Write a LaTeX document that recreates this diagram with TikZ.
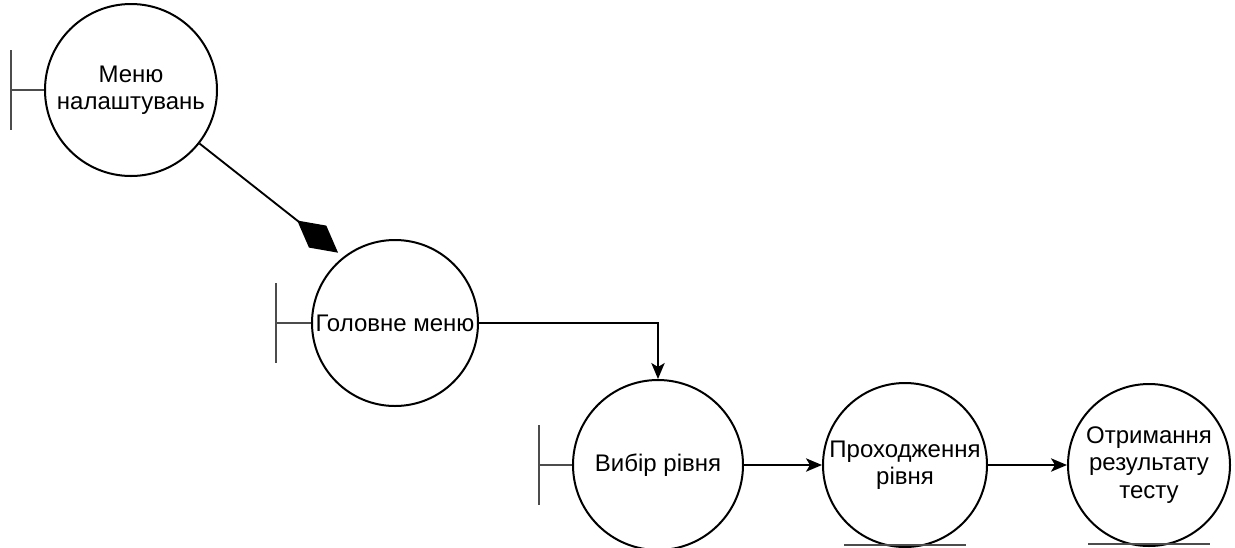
\documentclass[tikz,border=0pt]{standalone}
\usepackage{fontspec}
\setmainfont{Liberation Sans}
\usetikzlibrary{
    positioning,
    arrows.meta,
    calc
}

\begin{document}
\begin{tikzpicture}[x=0.75pt, y=-0.75pt,
        ctrl/.style={circle, draw, line width=1.5pt, inner sep=0pt, align=center,
            font=\fontsize{18}{20.5}\selectfont},
        bnd/.style={line width=1.6pt, black!70},
        flow/.style={line width=1.4pt, -{Stealth[length=12pt, width=10pt, inset=3pt]}}]
        \useasboundingbox (0,0) rectangle (1235,547);

        % об'єкти
        \node[ctrl, minimum size=129pt] (settings) at (131,90) {Меню\\налаштувань};
        \node[ctrl, minimum size=124.5pt] (mainmenu) at (395,323) {Головне меню};
        \node[ctrl, minimum size=127.5pt] (choose) at (658,465) {Вибір рівня};
        \node[ctrl, minimum size=123pt] (pass) at (905,465) {Проходження\\рівня};
        \node[ctrl, minimum size=121.5pt] (result) at (1149,465) {Отримання\\результату\\тесту};

        % граничні об'єкти
        \draw[bnd] (settings.west) -- ++(-33,0) coordinate (bs) (bs) ++(0,-40) -- ++(0,80);
        \draw[bnd] (mainmenu.west) -- ++(-35,0) coordinate (bm) (bm) ++(0,-40) -- ++(0,80);
        \draw[bnd] (choose.west) -- ++(-33,0) coordinate (bc) (bc) ++(0,-40) -- ++(0,80);

        % сутності
        \draw[bnd] (pass.south) ++(-61,-3) -- ++(122,0);
        \draw[bnd] (result.south) ++(-61,-3) -- ++(122,0);

        % зв'язки
        \draw[line width=1.4pt, -{Diamond[length=39pt, width=21pt]}, shorten >=5pt]
            (settings.-38) -- (mainmenu.128);
        \draw[flow] (mainmenu.east) -| (choose.north);
        \draw[flow] (choose) -- (pass);
        \draw[flow] (pass) -- (result);
    \end{tikzpicture}
\end{document}
